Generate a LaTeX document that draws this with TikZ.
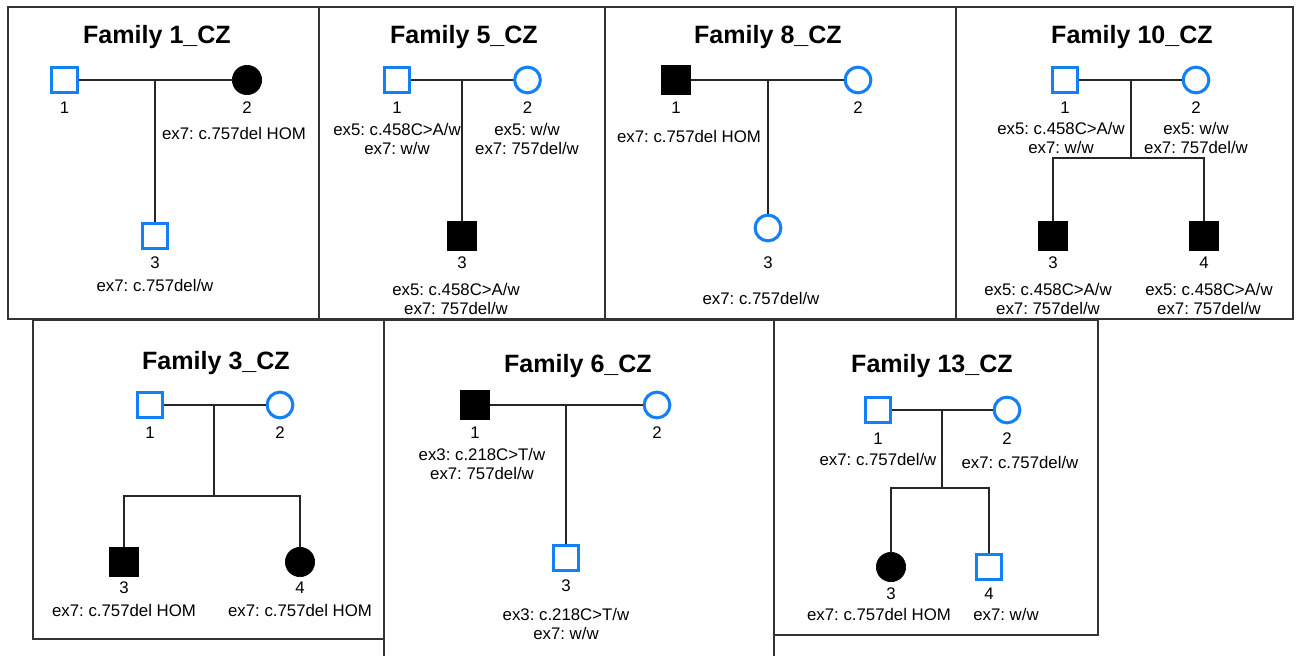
\documentclass[tikz,border=0pt]{standalone}
\usepackage{fontspec}
\setmainfont{Liberation Sans}
\usepackage{tikz}
\usetikzlibrary{positioning}
\frenchspacing

\definecolor{pblue}{RGB}{20,128,245}

\begin{document}
\begin{tikzpicture}[x=0.75pt, y=-0.75pt,
    male/.style={draw=pblue, line width=2.3pt, minimum size=19.3pt, inner sep=0},
    female/.style={male, circle},
    affmale/.style={draw=black, fill=black, line width=0.5pt, minimum size=22pt, inner sep=0},
    afffemale/.style={affmale, circle},
    rel/.style={line width=0.8pt, black!85},
    frame/.style={line width=1.1pt, black!80},
    famtitle/.style={font=\bfseries\fontsize{18.8}{22}\selectfont, inner sep=0, text height=13.5pt, text depth=0pt},
    num/.style={font=\fontsize{12.6}{14.25}\selectfont, inner sep=0, text height=9pt, text depth=0pt},
    geno/.style={font=\fontsize{12.6}{14.25}\selectfont, inner sep=0, anchor=north, align=center}]
\useasboundingbox (0,0) rectangle (1297,656);

% Frames
\draw[frame] (8,7) rectangle (319,319);
\draw[frame] (319,7) rectangle (605,319);
\draw[frame] (605,7) rectangle (956,319);
\draw[frame] (956,7) rectangle (1293,319);
\draw[frame] (33,320) rectangle (384,639);
\draw[frame] (384,656) -- (384,320) -- (774,320) -- (774,656);
\draw[frame] (774,320) rectangle (1098,635);

% Family 1
\node[famtitle] (t1) at (157,35) {Family 1\_CZ};
\node[male] (f1a) at (64.5,80) {};
\node[afffemale] (f1b) at (247,80) {};
\node[male] (f1c) at (155,236) {};
\coordinate (f1m) at (155,80);
\draw[rel] (f1a) -- (f1b);
\draw[rel] (f1m) -- (f1c);
\node[num] (f1n1) at (64.5,108) {1};
\node[num] (f1n2) at (247,108) {2};
\node[num] (f1n3) at (155,262) {3};
\node[geno] (f1g2) at (234,127) {ex7: c.757del HOM};
\node[geno] (f1g3) at (155,279) {ex7: c.757del/w};

% Family 5
\node[famtitle] (t5) at (464,35) {Family 5\_CZ};
\node[male] (f5a) at (397,80) {};
\node[female] (f5b) at (527.5,80) {};
\node[affmale] (f5c) at (462,236) {};
\coordinate (f5m) at (462,80);
\draw[rel] (f5a) -- (f5b);
\draw[rel] (f5m) -- (f5c);
\node[num] (f5n1) at (397,108) {1};
\node[num] (f5n2) at (527.5,108) {2};
\node[num] (f5n3) at (462,262) {3};
\node[geno] (f5g1) at (397,123) {ex5: c.458C>A/w\\ex7: w/w};
\node[geno] (f5g2) at (527,123) {ex5: w/w\\ex7: 757del/w};
\node[geno] (f5g3) at (456,283) {ex5: c.458C>A/w\\ex7: 757del/w};

% Family 8
\node[famtitle] (t8) at (768,35) {Family 8\_CZ};
\node[affmale] (f8a) at (676,80) {};
\node[female] (f8b) at (858,80) {};
\node[female] (f8c) at (768,228) {};
\coordinate (f8m) at (768,80);
\draw[rel] (f8a) -- (f8b);
\draw[rel] (f8m) -- (f8c);
\node[num] (f8n1) at (676,108) {1};
\node[num] (f8n2) at (858,108) {2};
\node[num] (f8n3) at (768,263) {3};
\node[geno] (f8g1) at (689,130) {ex7: c.757del HOM};
\node[geno] (f8g3) at (761,292) {ex7: c.757del/w};

% Family 10
\node[famtitle] (t10) at (1132,35) {Family 10\_CZ};
\node[male] (f10a) at (1065,80) {};
\node[female] (f10b) at (1196,80) {};
\node[affmale] (f10c) at (1053,236) {};
\node[affmale] (f10d) at (1204,236) {};
\coordinate (f10m) at (1131,80);
\coordinate (f10s) at (1131,158);
\draw[rel] (f10a) -- (f10b);
\draw[rel] (f10m) -- (f10s);
\draw[rel] (f10c) |- (f10s) -| (f10d);
\node[num] (f10n1) at (1065,108) {1};
\node[num] (f10n2) at (1196,108) {2};
\node[num] (f10n3) at (1053,262) {3};
\node[num] (f10n4) at (1204,262) {4};
\node[geno] (f10g1) at (1061,122) {ex5: c.458C>A/w\\ex7: w/w};
\node[geno] (f10g2) at (1196,122) {ex5: w/w\\ex7: 757del/w};
\node[geno] (f10g3) at (1048,283) {ex5: c.458C>A/w\\ex7: 757del/w};
\node[geno] (f10g4) at (1209,283) {ex5: c.458C>A/w\\ex7: 757del/w};

% Family 3
\node[famtitle] (t3) at (216,360) {Family 3\_CZ};
\node[male] (f3a) at (150,405) {};
\node[female] (f3b) at (280,405) {};
\node[affmale] (f3c) at (124,562) {};
\node[afffemale] (f3d) at (300,562) {};
\coordinate (f3m) at (214,405);
\coordinate (f3s) at (214,496);
\draw[rel] (f3a) -- (f3b);
\draw[rel] (f3m) -- (f3s);
\draw[rel] (f3c) |- (f3s) -| (f3d);
\node[num] (f3n1) at (150,432) {1};
\node[num] (f3n2) at (280,432) {2};
\node[num] (f3n3) at (124,587) {3};
\node[num] (f3n4) at (300,587) {4};
\node[geno] (f3g3) at (124,604) {ex7: c.757del HOM};
\node[geno] (f3g4) at (300,604) {ex7: c.757del HOM};

% Family 6
\node[famtitle] (t6) at (578,363) {Family 6\_CZ};
\node[affmale] (f6a) at (475,405) {};
\node[female] (f6b) at (657,405) {};
\node[male] (f6c) at (566,558) {};
\coordinate (f6m) at (566,405);
\draw[rel] (f6a) -- (f6b);
\draw[rel] (f6m) -- (f6c);
\node[num] (f6n1) at (475,432) {1};
\node[num] (f6n2) at (657,432) {2};
\node[num] (f6n3) at (566,585) {3};
\node[geno] (f6g1) at (482,448) {ex3: c.218C>T/w\\ex7: 757del/w};
\node[geno] (f6g3) at (566,608) {ex3: c.218C>T/w\\ex7: w/w};

% Family 13
\node[famtitle] (t13) at (932,363) {Family 13\_CZ};
\node[male] (f13a) at (878,410) {};
\node[female] (f13b) at (1007,410) {};
\node[afffemale] (f13c) at (891,567) {};
\node[male] (f13d) at (989,567) {};
\coordinate (f13m) at (942,410);
\coordinate (f13s) at (942,488);
\draw[rel] (f13a) -- (f13b);
\draw[rel] (f13m) -- (f13s);
\draw[rel] (f13c) |- (f13s) -| (f13d);
\node[num] (f13n1) at (878,438) {1};
\node[num] (f13n2) at (1007,438) {2};
\node[num] (f13n3) at (891,593) {3};
\node[num] (f13n4) at (989,593) {4};
\node[geno] (f13g1) at (878,453) {ex7: c.757del/w};
\node[geno] (f13g2) at (1020,456) {ex7: c.757del/w};
\node[geno] (f13g3) at (879,608) {ex7: c.757del HOM};
\node[geno] (f13g4) at (1006,608) {ex7: w/w};
\end{tikzpicture}
\end{document}
